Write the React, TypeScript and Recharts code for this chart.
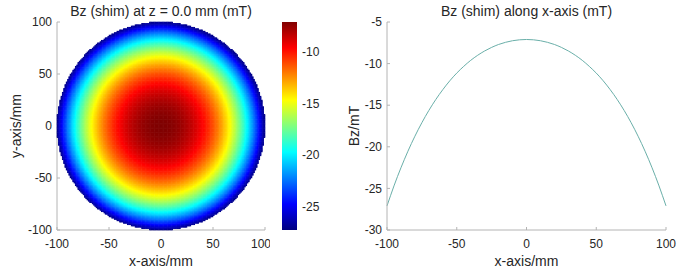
import React from 'react';
import { ScatterChart, Scatter, LineChart, Line, BarChart, Bar, XAxis, YAxis } from 'recharts';

// position along the x-axis (mm) and Bz (mT)
const X_MM = [
  -100, -95, -90, -85, -80, -75, -70, -65, -60, -55, -50, -45, -40, -35, -30, -25, -20, -15, -10, -5,
  0, 5, 10, 15, 20, 25, 30, 35, 40, 45, 50, 55, 60, 65, 70, 75, 80, 85, 90, 95, 100,
];
const BZ_ALONG_X = [
  -27.1, -24.7, -22.52, -20.53, -18.73, -17.1, -15.63, -14.31, -13.13, -12.07, -11.14, -10.33, -9.61, -9.0, -8.48, -8.05, -7.7, -7.44, -7.25, -7.14,
  -7.1, -7.14, -7.25, -7.44, -7.7, -8.05, -8.48, -9.0, -9.61, -10.33, -11.14, -12.07, -13.13, -14.31, -15.63, -17.1, -18.73, -20.53, -22.52, -24.7, -27.1,
];
const MM_TICKS = [-100, -50, 0, 50, 100];
const BZ_TICKS = [-30, -25, -20, -15, -10, -5];
const CBAR_TICKS = [-25, -20, -15, -10];
const CBAR_RANGE = [-27.26, -7.13];

const FONT = '"Liberation Sans", Arial, sans-serif';
const BOX = '#b4b4b4';
const INK = '#262626';
const PLOT = 208; // heat map plot side in px
const CELL = 1.25; // mm

// field is rotationally symmetric: the map uses the profile at radius r
const RADIAL = BZ_ALONG_X.slice(20);
const radialBz = (r: number) => {
  const t = r / 5;
  const i = Math.min(Math.floor(t), RADIAL.length - 2);
  const f = t - i;
  return RADIAL[i] + (RADIAL[i + 1] - RADIAL[i]) * f;
};

const cells: { x: number; y: number; v: number }[] = [];
for (let x = -100 + CELL / 2; x < 100; x += CELL) {
  for (let y = -100 + CELL / 2; y < 100; y += CELL) {
    const r = Math.hypot(x, y);
    if (r <= 100) cells.push({ x, y, v: radialBz(r) });
  }
}

const lineData = X_MM.map((x, i) => ({ x, bz: BZ_ALONG_X[i] }));
const cbarData = [{ k: 'cb', range: CBAR_RANGE }];

const jet = (v: number) => {
  const t = (v - CBAR_RANGE[0]) / (CBAR_RANGE[1] - CBAR_RANGE[0]);
  const c = (n: number) => Math.round(255 * Math.max(0, Math.min(1, n)));
  return `rgb(${c(1.5 - Math.abs(4 * t - 3))},${c(1.5 - Math.abs(4 * t - 2))},${c(1.5 - Math.abs(4 * t - 1))})`;
};

const HeatCell = (props: any) => {
  const { cx, cy, payload } = props;
  const s = (CELL * PLOT) / 200 + 0.5;
  return <rect x={cx - s / 2} y={cy - s / 2} width={s} height={s} fill={jet(payload.v)} />;
};

const tickStyle = { fontSize: 12, fill: INK };
const blank = () => '';

const Title: React.FC<{ left: number; width: number; text: string }> = ({ left, width, text }) => (
  <div style={{ position: 'absolute', left, top: 3, width, textAlign: 'center', fontSize: 14, lineHeight: '16px', color: INK }}>
    {text}
  </div>
);

export default function App() {
  return (
    <div style={{ position: 'absolute', left: 0, top: 0, width: 700, height: 270, background: '#fff', fontFamily: FONT }}>
      <Title left={57} width={208} text="Bz (shim) at z = 0.0 mm (mT)" />
      <Title left={387} width={279} text="Bz (shim) along x-axis (mT)" />

      <div style={{ position: 'absolute', left: 0, top: 0 }}>
        <ScatterChart width={270} height={270} margin={{ top: 22, right: 5, bottom: 0, left: 0 }}>
          <XAxis
            type="number" dataKey="x" domain={[-100, 100]} ticks={MM_TICKS} height={40}
            stroke={BOX} tick={tickStyle} tickSize={-3} tickMargin={12.5}
            label={{ value: 'x-axis/mm', position: 'insideBottom', offset: 4, fontSize: 14, fill: INK }}
          />
          <XAxis xAxisId="top" orientation="top" type="number" domain={[-100, 100]} ticks={MM_TICKS} height={0}
            stroke={BOX} tickSize={-3} tickFormatter={blank} />
          <YAxis
            type="number" dataKey="y" domain={[-100, 100]} ticks={MM_TICKS} width={57}
            stroke={BOX} tick={tickStyle} tickSize={-3} tickMargin={8}
            label={{ value: 'y-axis/mm', angle: -90, position: 'insideLeft', offset: 16, fontSize: 14, fill: INK, style: { textAnchor: 'middle' } }}
          />
          <YAxis yAxisId="right" orientation="right" type="number" domain={[-100, 100]} ticks={MM_TICKS} width={0}
            stroke={BOX} tickSize={-3} tickFormatter={blank} />
          <Scatter data={cells} shape={HeatCell} isAnimationActive={false} />
        </ScatterChart>
      </div>

      <div style={{ position: 'absolute', left: 270, top: 0 }}>
        <BarChart width={60} height={270} data={cbarData} margin={{ top: 22, right: 0, bottom: 40, left: 12 }} barCategoryGap={0}>
          <defs>
            <linearGradient id="jetGrad" x1="0" y1="1" x2="0" y2="0">
              <stop offset="0" stopColor="#000080" />
              <stop offset="0.125" stopColor="#0000ff" />
              <stop offset="0.375" stopColor="#00ffff" />
              <stop offset="0.625" stopColor="#ffff00" />
              <stop offset="0.875" stopColor="#ff0000" />
              <stop offset="1" stopColor="#800000" />
            </linearGradient>
          </defs>
          <XAxis dataKey="k" hide />
          <YAxis orientation="right" type="number" domain={CBAR_RANGE} ticks={CBAR_TICKS} width={33}
            axisLine={false} tickLine={false} tickSize={0} tickMargin={5} tick={tickStyle} />
          <Bar dataKey="range" fill="url(#jetGrad)" isAnimationActive={false} />
        </BarChart>
      </div>

      <div style={{ position: 'absolute', left: 340, top: 0 }}>
        <LineChart width={360} height={270} data={lineData} margin={{ top: 22, right: 34, bottom: 0, left: 0 }}>
          <XAxis
            type="number" dataKey="x" domain={[-100, 100]} ticks={MM_TICKS} height={40}
            stroke={BOX} tick={tickStyle} tickSize={-3} tickMargin={12.5}
            label={{ value: 'x-axis/mm', position: 'insideBottom', offset: 4, fontSize: 14, fill: INK }}
          />
          <XAxis xAxisId="top" orientation="top" type="number" domain={[-100, 100]} ticks={MM_TICKS} height={0}
            stroke={BOX} tickSize={-3} tickFormatter={blank} />
          <YAxis
            type="number" domain={[-30, -5]} ticks={BZ_TICKS} width={47}
            stroke={BOX} tick={tickStyle} tickSize={-3} tickMargin={8}
            label={{ value: 'Bz/mT', angle: -90, position: 'insideLeft', offset: 14, fontSize: 14, fill: INK, style: { textAnchor: 'middle' } }}
          />
          <YAxis yAxisId="right" orientation="right" type="number" domain={[-30, -5]} ticks={BZ_TICKS} width={0}
            stroke={BOX} tickSize={-3} tickFormatter={blank} />
          <Line type="natural" dataKey="bz" stroke="#6aafa9" strokeWidth={1} dot={false} isAnimationActive={false} />
        </LineChart>
      </div>
    </div>
  );
}
